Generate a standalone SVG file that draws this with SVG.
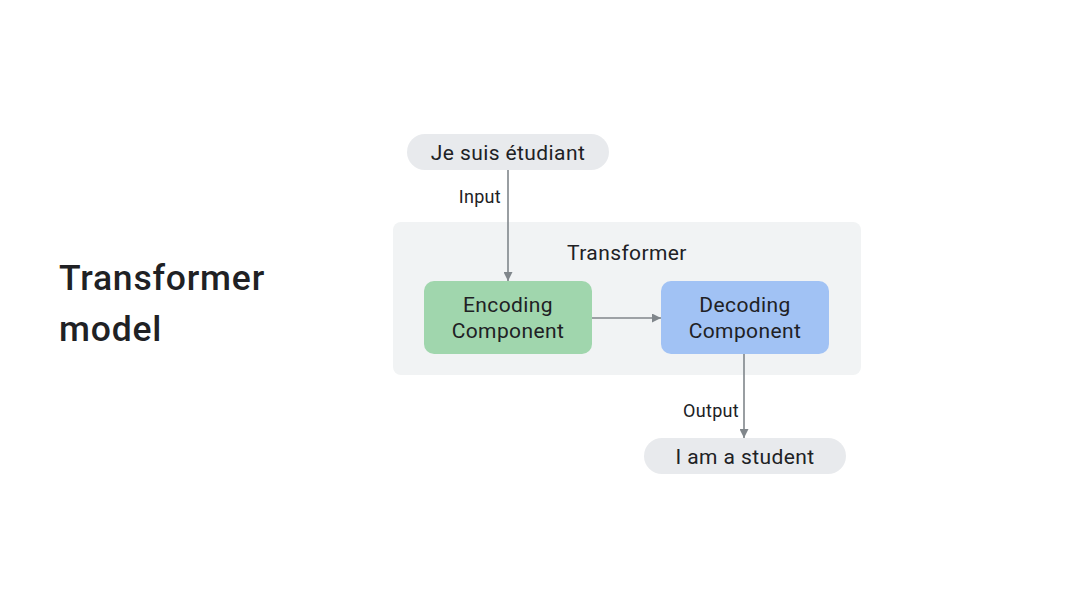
<svg xmlns="http://www.w3.org/2000/svg" width="1080" height="608" viewBox="0 0 1080 608">
<defs>
<style>
text{font-family:Roboto,"Open Sans","Liberation Sans",sans-serif;fill:#202124}
.t{font-size:21px;text-anchor:middle;letter-spacing:0.4px}
.l{font-size:18px;letter-spacing:0.3px}
.h{font-size:35.5px;font-weight:500;letter-spacing:0.8px}
.pill{fill:#e8eaed}
.line{stroke:#80868b;stroke-width:1.6;fill:none}
</style>
<marker id="ah" viewBox="0 0 10 10" refX="10" refY="5" markerWidth="9" markerHeight="9" markerUnits="userSpaceOnUse" orient="auto"><path d="M0,0L10,5L0,10z" fill="#80868b"/></marker>
</defs>
<rect width="1080" height="608" fill="#ffffff"/>
<g id="title"><text class="h" x="59" y="290">Transformer</text><text class="h" x="59" y="341">model</text></g>
<g id="transformer"><rect x="393" y="222" width="468" height="153" rx="8" fill="#f1f3f4"/><text class="t" x="627" y="260">Transformer</text></g>
<g id="input"><rect class="pill" x="407" y="134" width="202" height="36" rx="18"/><text class="t" x="508" y="160">Je suis étudiant</text></g>
<g id="encoding"><rect x="424" y="281" width="168" height="73" rx="10" fill="#a0d6ad"/><text class="t" x="508" y="312">Encoding</text><text class="t" x="508" y="338">Component</text></g>
<g id="decoding"><rect x="661" y="281" width="168" height="73" rx="10" fill="#a1c2f4"/><text class="t" x="745" y="312">Decoding</text><text class="t" x="745" y="338">Component</text></g>
<g id="output"><rect class="pill" x="644" y="438" width="202" height="36" rx="18"/><text class="t" x="745" y="464">I am a student</text></g>
<g id="connectors">
<path class="line" d="M508,170V281" marker-end="url(#ah)"/>
<path class="line" d="M592,318H661" marker-end="url(#ah)"/>
<path class="line" d="M744,354V438" marker-end="url(#ah)"/>
<text class="l" x="501" y="203" text-anchor="end">Input</text>
<text class="l" x="739" y="417" text-anchor="end">Output</text>
</g>
</svg>
